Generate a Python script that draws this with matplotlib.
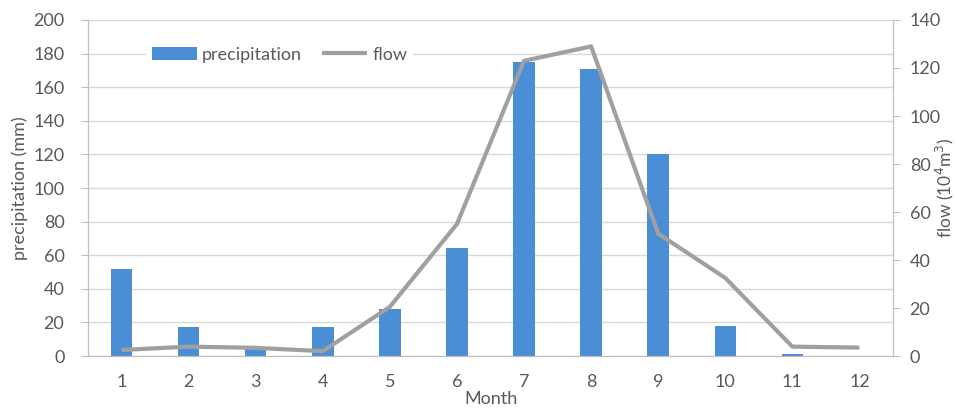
import matplotlib
matplotlib.use("agg")
import matplotlib.pyplot as plt

# data
months = [1, 2, 3, 4, 5, 6, 7, 8, 9, 10, 11, 12]
precipitation = [52, 17, 4, 17.5, 28, 64, 175, 171, 120, 18, 1, 0]
flow = [2.5, 3.9, 3.4, 2.0, 20.5, 55, 123, 129, 51, 32.5, 3.9, 3.5]

txt = "#595959"
axc = "#bfbfbf"
plt.rcParams["font.family"] = ["Lato", "DejaVu Sans"]

fig = plt.figure(figsize=(9.57, 4.11), dpi=100)
ax = fig.add_axes([88 / 957, 1 - 356 / 411, 805 / 957, 336 / 411])
ax2 = ax.twinx()

ax.grid(axis="y", color="#d9d9d9", linewidth=1)
ax.set_axisbelow(True)
bars = ax.bar(months, precipitation, width=0.32, color="#4a8fd6", zorder=2)

line, = ax2.plot(months, flow, color="#a0a0a0", linewidth=3, solid_capstyle="butt")

ax.set_xlim(0.5, 12.5)
ax.set_ylim(0, 200)
ax.set_yticks(range(0, 201, 20))
ax2.set_ylim(0, 140)
ax2.set_yticks(range(0, 141, 20))
ax.set_xticks(months)

for a in (ax, ax2):
    a.spines["top"].set_visible(False)
    for s in ("left", "right", "bottom"):
        a.spines[s].set_color(axc)
    a.tick_params(colors=txt, labelsize=13, length=5, color=axc)
ax.tick_params(axis="y", pad=12)
ax2.tick_params(axis="y", pad=7)
ax.tick_params(axis="x", length=0, pad=13)

ax.set_ylabel("precipitation (mm)", fontsize=13, color=txt, labelpad=4)
ax2.set_ylabel("flow (10$^4$m$^3$)", fontsize=12.5, color=txt)
ax2.yaxis.set_label_coords(1.051, 0.5)
ax.set_xlabel("Month", fontsize=13, color=txt, labelpad=1)

leg = ax2.legend([bars, line], ["precipitation", "flow"], loc="center left",
                 bbox_to_anchor=(0.061, 0.897), ncol=2, fontsize=13,
                 frameon=True, facecolor="white", edgecolor="none", framealpha=1,
                 fancybox=False, handlelength=2.5, handletextpad=0.3,
                 columnspacing=1.1, borderpad=0.3)
for t in leg.get_texts():
    t.set_color(txt)

plt.savefig("out.png", dpi=100)
